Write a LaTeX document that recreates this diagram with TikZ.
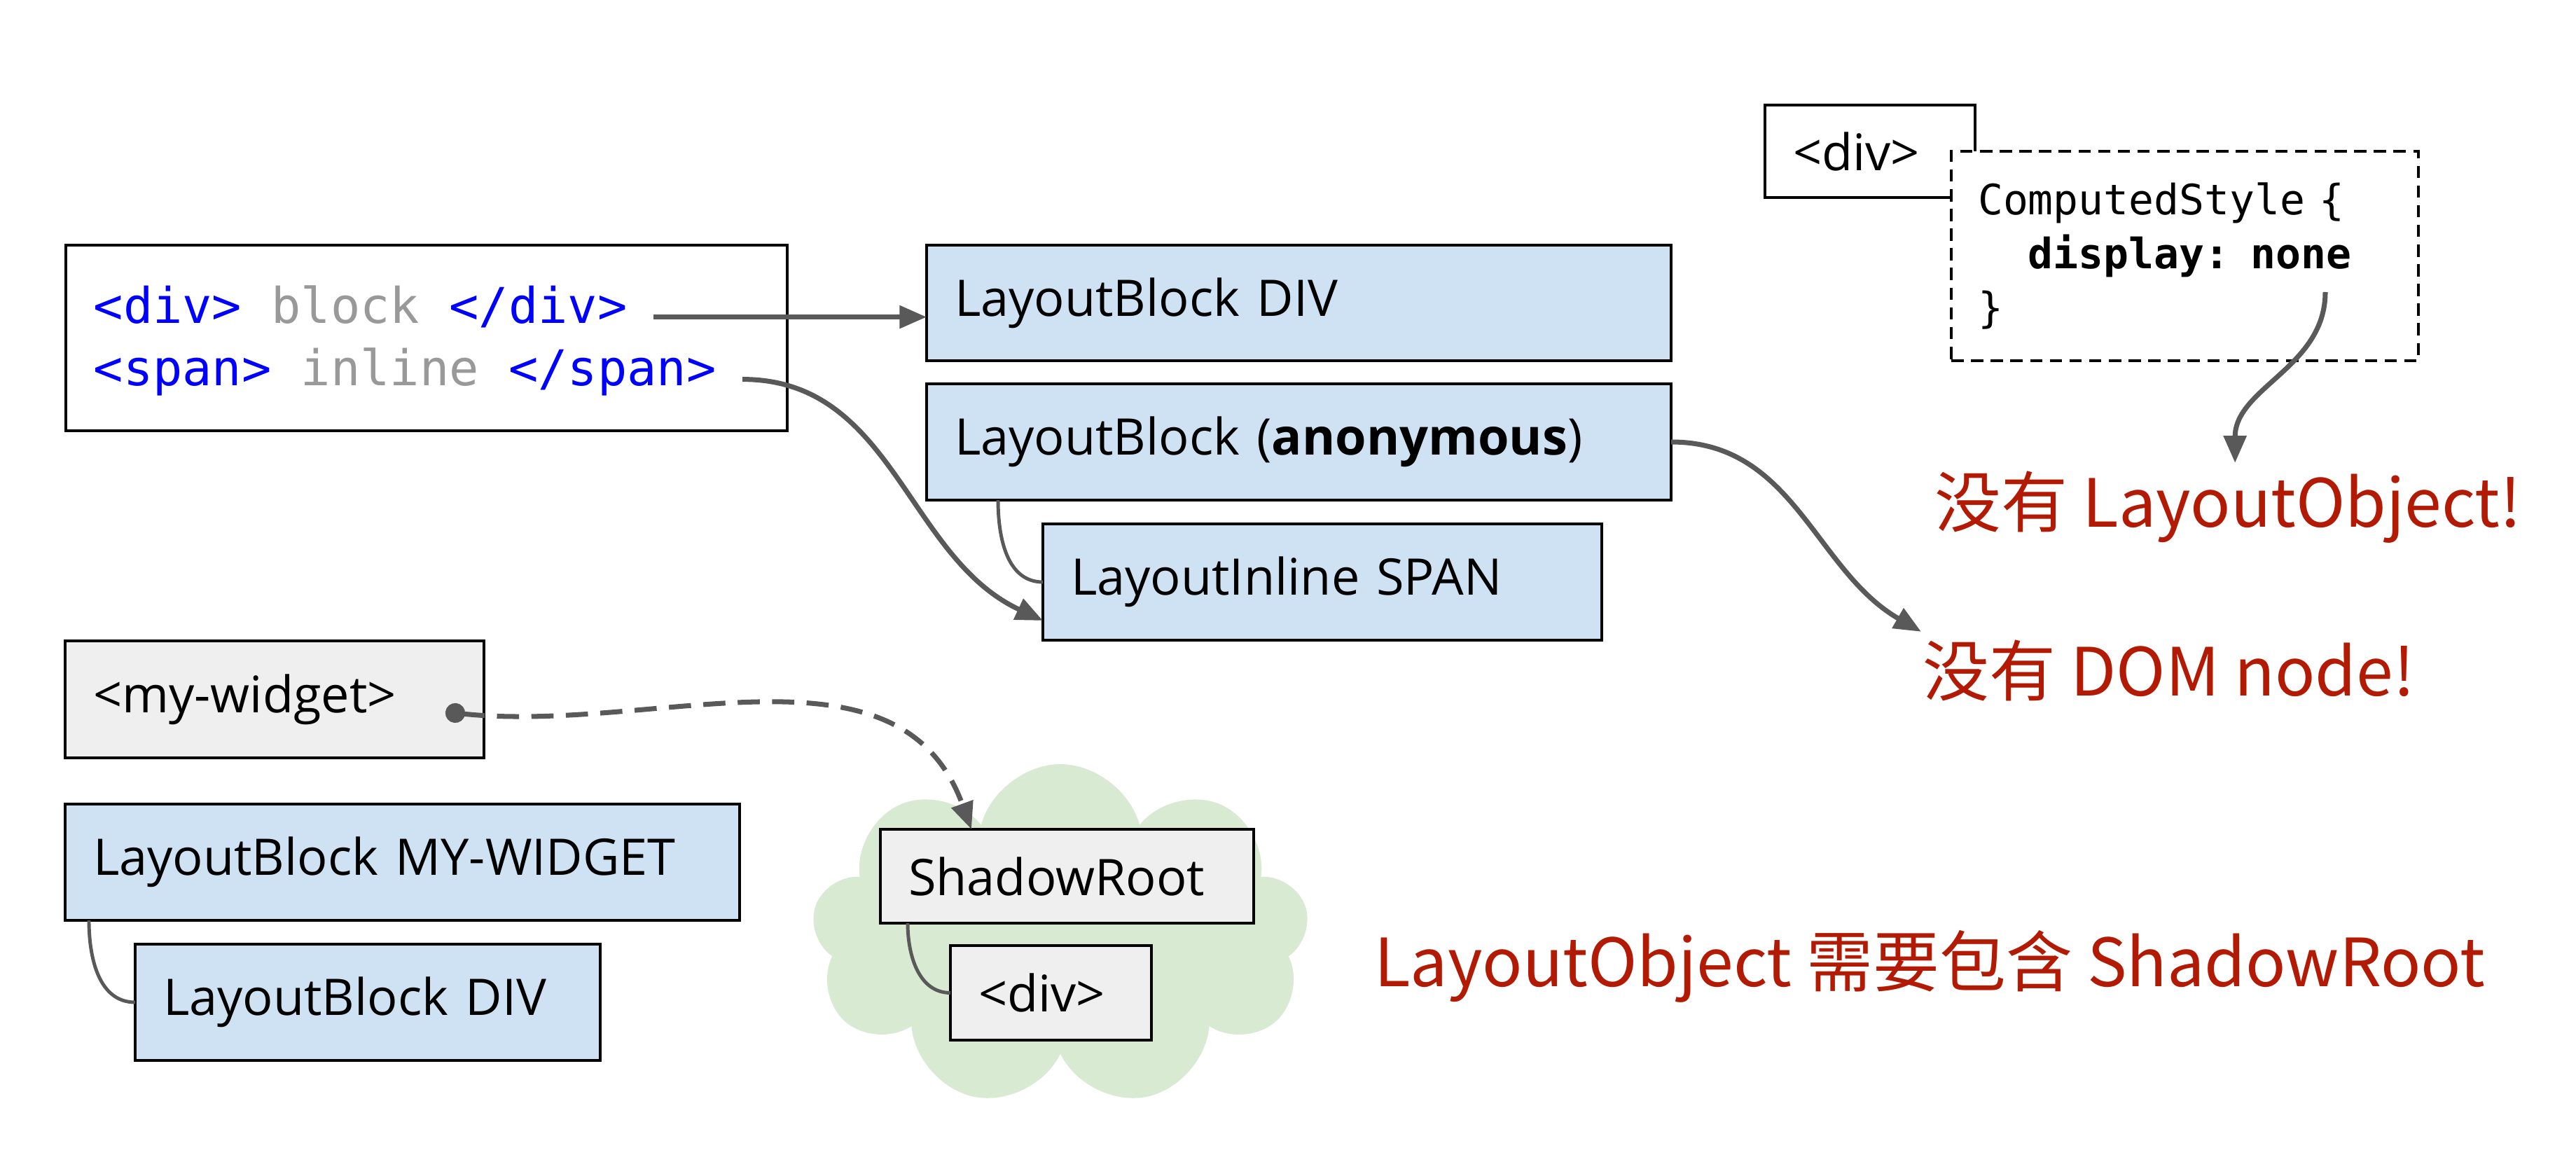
\documentclass[tikz,border=0pt]{standalone}
\usepackage{fontspec}
\setmainfont{Open Sans}
\setmonofont{DejaVu Sans Mono}
\newfontfamily\cjk{Noto Sans CJK SC}
\usetikzlibrary{positioning,arrows.meta,shapes.symbols}

\definecolor{boxblue}{HTML}{CFE2F3}
\definecolor{boxgray}{HTML}{EFEFEF}
\definecolor{cloudgreen}{HTML}{D9EAD3}
\definecolor{linegray}{HTML}{595959}
\definecolor{tagblue}{HTML}{0000FF}
\definecolor{txtgray}{HTML}{999999}
\definecolor{notered}{RGB}{178,26,4}

\begin{document}
\begin{tikzpicture}[
  font=\fontsize{20.5}{24}\selectfont,
  box/.style={rectangle, draw=black, line width=1pt, anchor=north west, outer sep=0pt,
              inner xsep=0.4cm, inner ysep=0pt, align=left},
  lay/.style={box, fill=boxblue},
  dom/.style={box, fill=boxgray},
  code/.style={font=\fontsize{20}{24}\ttfamily, anchor=base west, inner sep=2pt},
  note/.style={font=\cjk\fontsize{27}{32}\selectfont, text=notered, anchor=base west},
  conn/.style={draw=linegray, line width=2pt, -{Triangle[length=11pt,width=9pt]}},
  tree/.style={draw=linegray, line width=1.4pt}
]
\useasboundingbox (0,0) rectangle (36.78,16.68);

\node[box, minimum width=10.30cm, minimum height=2.65cm] (src) at (0.94,13.18) {};
\node[code] (l1) at (1.26,12.06) {\textcolor{tagblue}{<div>} \textcolor{txtgray}{block} \textcolor{tagblue}{</div>}};
\node[code] (l2) at (1.26,11.17) {\textcolor{tagblue}{<span>} \textcolor{txtgray}{inline} \textcolor{tagblue}{</span>}};

\node[lay, text width=9.83cm, minimum height=1.65cm] (blockdiv) at (13.23,13.18) {LayoutBlock DIV};
\node[lay, text width=9.83cm, minimum height=1.66cm] (anon) at (13.23,11.20) {LayoutBlock (\textbf{anonymous})};
\node[lay, text width=7.18cm, minimum height=1.66cm] (span) at (14.89,9.20) {LayoutInline SPAN};

\node[box, text width=2.20cm, minimum height=1.32cm] (topdiv) at (25.20,15.18) {<div>};
\node[box, fill=white, dash pattern=on 5pt off 3pt, inner xsep=0.38cm, text width=5.91cm,
      minimum height=2.99cm, font=\fontsize{17}{22}\ttfamily] (cstyle) at (27.86,14.52)
      {ComputedStyle \{\\\phantom{xx}\textbf{display: none}\\\}};
\coordinate (nonept) at (33.20,12.51);

\node[note] (nolo) at (27.50,9.15) {没有 LayoutObject!};
\node[note] (nodom) at (27.33,6.74) {没有 DOM node!};

\node[dom, text width=5.18cm, minimum height=1.67cm] (mw) at (0.93,7.53) {<my-widget>};
\node[lay, text width=8.83cm, minimum height=1.66cm] (lbmw) at (0.93,5.20) {LayoutBlock MY-WIDGET};
\node[lay, text width=5.84cm, minimum height=1.66cm] (lbdiv) at (1.93,3.20) {LayoutBlock DIV};

\node[cloud, cloud puffs=9, fill=cloudgreen, minimum width=7.1cm, minimum height=4.9cm] (shadow) at (15.14,3.32) {};
\node[dom, text width=4.53cm, minimum height=1.34cm] (sroot) at (12.57,4.84) {ShadowRoot};
\node[dom, text width=2.07cm, minimum height=1.35cm] (cdiv) at (13.57,3.18) {<div>};

\node[note] (needs) at (19.50,2.60) {LayoutObject 需要包含 ShadowRoot};

\draw[conn] ([xshift=0.3cm]l1.mid east) -- (l1.mid east -| blockdiv.west);
\draw[conn] ([xshift=0.3cm]l2.mid east) to[out=0,in=155] ([yshift=0.28cm]span.south west);
\draw[tree] ([xshift=1.02cm]anon.south west) to[out=-90,in=180] (span.west);
\draw[conn] (anon.east) to[out=0,in=150] ([xshift=0.1cm]nodom.north west);
\draw[conn] (nonept) to[out=-90,in=90] ([xshift=0.1cm]nolo.north);
\draw[tree] ([xshift=0.34cm]lbmw.south west) to[out=-90,in=180] (lbdiv.west);
\draw[tree] ([xshift=0.39cm]sroot.south west) to[out=-90,in=180] (cdiv.west);
\draw[conn, {Circle[length=8pt]}-{Triangle[length=11pt,width=9pt]}, dash pattern=on 9pt off 5pt]
  ([xshift=-0.55cm,yshift=-0.18cm]mw.east) to[out=-6,in=110] ([xshift=1.3cm]sroot.north west);
\end{tikzpicture}
\end{document}
